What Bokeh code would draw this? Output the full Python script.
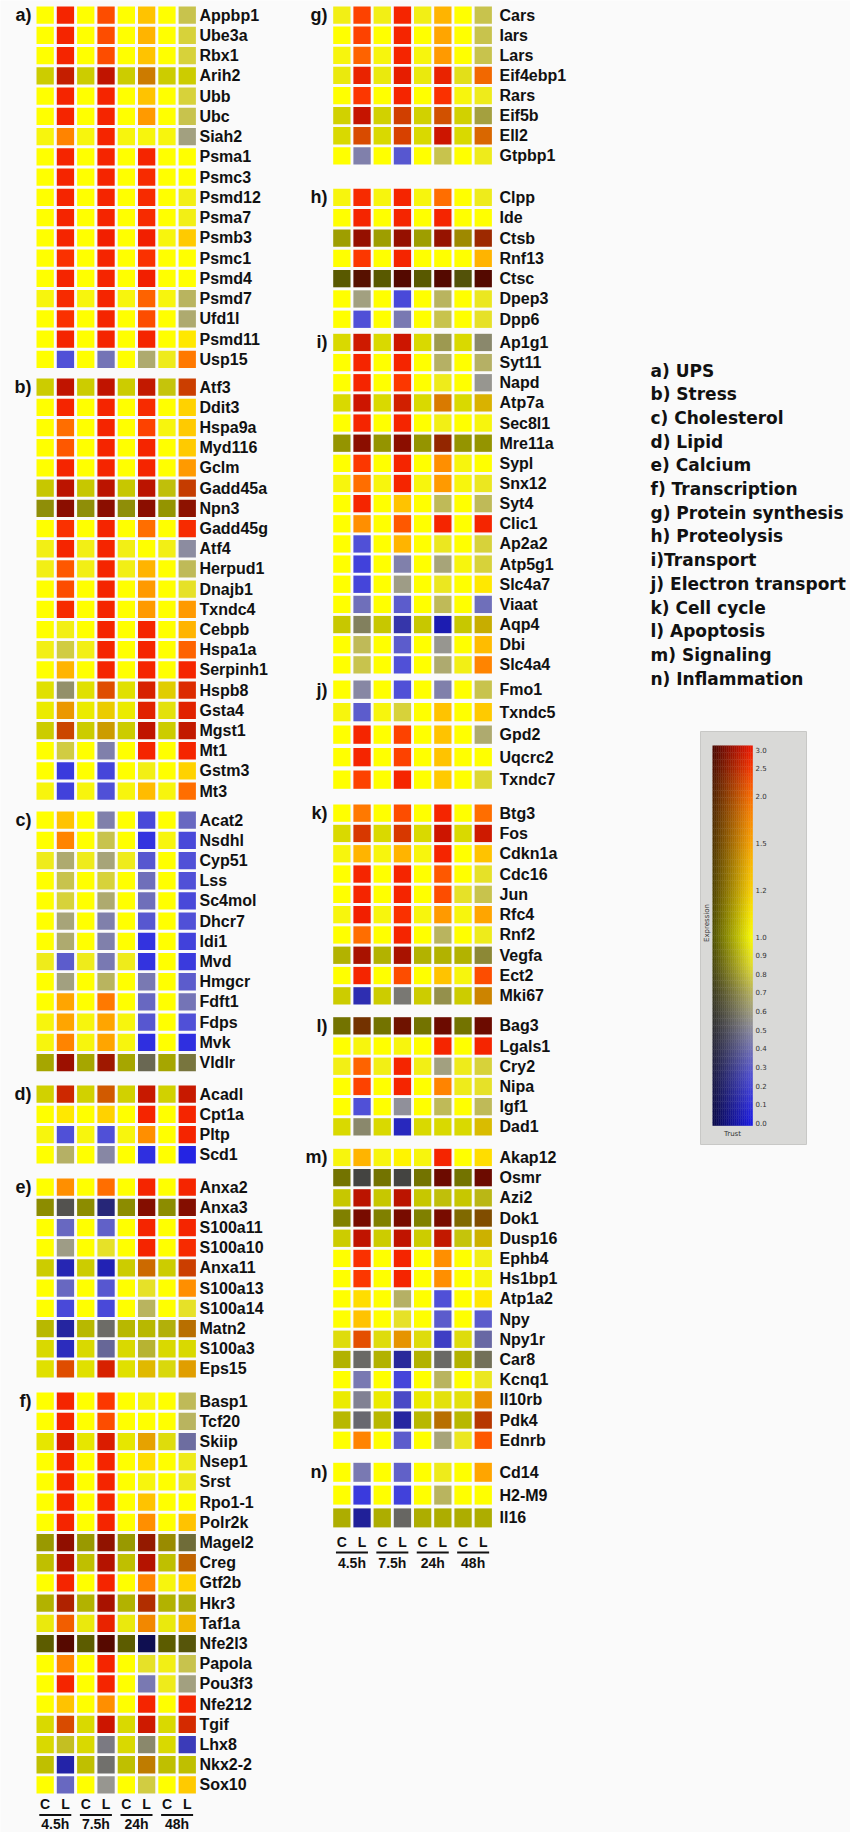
import numpy as np
from bokeh.plotting import figure
from bokeh.models import Range1d, ColumnDataSource
from bokeh.embed import file_html
from bokeh.resources import INLINE
from bokeh.core.properties import value

# ---------------- data ----------------
periods = ["4.5h", "7.5h", "24h", "48h"]
conditions = ["C", "L", "C", "L", "C", "L", "C", "L"]

legend_items = ["a) UPS", "b) Stress", "c) Cholesterol", "d) Lipid", "e) Calcium",
                "f) Transcription", "g) Protein synthesis", "h) Proteolysis",
                "i)Transport", "j) Electron transport", "k) Cell cycle",
                "l) Apoptosis", "m) Signaling", "n) Inflammation"]

cbar_ticks = [3.0, 2.5, 2.0, 1.5, 1.2, 1.0, 0.9, 0.8, 0.7, 0.6, 0.5, 0.4, 0.3, 0.2, 0.1, 0.0]

genes_a = ["Appbp1", "Ube3a", "Rbx1", "Arih2", "Ubb", "Ubc", "Siah2", "Psma1", "Psmc3",
           "Psmd12", "Psma7", "Psmb3", "Psmc1", "Psmd4", "Psmd7", "Ufd1l", "Psmd11", "Usp15"]
expr_a = [
    [1.0, 2.8, 1.0, 2.3, 1.0, 1.3, 1.0, 0.75],
    [1.0, 2.8, 1.0, 2.3, 1.0, 1.4, 1.0, 0.8],
    [1.0, 2.8, 1.0, 2.3, 1.0, 1.3, 1.0, 0.8],
    [1.0, 2.8, 1.0, 3.0, 1.0, 1.6, 1.0, 1.0],
    [1.0, 2.8, 1.0, 2.8, 1.0, 1.3, 1.0, 0.8],
    [1.0, 2.8, 1.0, 2.8, 1.0, 1.6, 1.0, 0.75],
    [0.95, 1.8, 0.95, 2.8, 0.95, 0.95, 0.95, 0.6],
    [1.0, 2.8, 1.0, 2.8, 1.0, 2.8, 1.0, 1.0],
    [1.0, 2.8, 1.0, 2.8, 1.0, 2.7, 1.0, 1.0],
    [1.0, 2.8, 1.0, 2.8, 1.0, 2.7, 1.0, 0.92],
    [1.0, 2.8, 1.0, 2.8, 1.0, 2.7, 1.0, 0.92],
    [1.0, 2.8, 1.0, 2.9, 1.0, 2.9, 0.95, 1.25],
    [1.0, 2.6, 1.0, 2.8, 1.0, 2.6, 1.0, 1.0],
    [1.0, 2.8, 1.0, 2.8, 1.0, 2.9, 1.0, 1.0],
    [0.95, 2.7, 0.95, 2.8, 0.95, 2.1, 0.95, 0.7],
    [1.0, 2.6, 1.0, 2.8, 1.0, 2.3, 1.0, 0.65],
    [1.0, 2.8, 1.0, 2.8, 1.0, 2.8, 1.0, 1.1],
    [1.0, 0.25, 1.0, 0.4, 1.0, 0.65, 0.9, 1.9],
]
trust_a = [1, 1, 1, 0.8, 1, 1, 1, 1, 1, 1, 1, 1, 1, 1, 1, 1, 1, 1]

genes_b = ["Atf3", "Ddit3", "Hspa9a", "Myd116", "Gclm", "Gadd45a", "Npn3", "Gadd45g", "Atf4",
           "Herpud1", "Dnajb1", "Txndc4", "Cebpb", "Hspa1a", "Serpinh1", "Hspb8", "Gsta4",
           "Mgst1", "Mt1", "Gstm3", "Mt3"]
expr_b = [
    [1.0, 3.0, 1.0, 3.0, 1.0, 2.9, 0.95, 2.3],
    [1.0, 2.8, 1.0, 2.8, 1.0, 2.7, 1.0, 1.2],
    [1.0, 2.0, 1.0, 2.8, 1.0, 2.4, 0.95, 1.25],
    [1.0, 2.2, 1.0, 2.8, 1.0, 2.8, 1.0, 1.25],
    [1.0, 2.8, 1.0, 2.8, 1.0, 2.8, 1.0, 1.6],
    [1.0, 3.0, 1.0, 3.0, 1.0, 3.0, 0.95, 2.3],
    [0.95, 3.0, 0.95, 3.0, 0.95, 3.0, 1.0, 2.9],
    [1.0, 2.6, 1.0, 2.8, 1.0, 2.0, 1.0, 2.7],
    [0.92, 2.8, 0.92, 2.8, 0.92, 1.0, 0.92, 0.5],
    [0.92, 2.2, 0.92, 2.8, 0.92, 1.4, 1.0, 0.72],
    [1.0, 2.3, 1.0, 2.8, 1.0, 1.6, 1.0, 0.85],
    [1.0, 2.7, 1.0, 2.8, 1.0, 1.6, 1.0, 1.6],
    [1.0, 0.92, 1.0, 2.8, 1.0, 2.8, 1.0, 1.4],
    [0.92, 0.78, 0.92, 2.8, 1.0, 2.8, 1.0, 2.1],
    [1.0, 1.4, 1.0, 2.8, 1.0, 2.8, 1.0, 2.8],
    [1.0, 0.62, 1.0, 2.2, 1.0, 2.8, 1.1, 2.6],
    [1.0, 1.5, 1.0, 1.15, 1.0, 2.8, 0.95, 2.8],
    [1.0, 2.2, 1.0, 1.3, 1.0, 3.0, 1.0, 2.9],
    [1.0, 0.78, 1.0, 0.45, 1.0, 2.8, 1.0, 2.8],
    [1.0, 0.15, 1.0, 0.2, 1.0, 0.92, 1.0, 1.2],
    [0.95, 0.18, 0.95, 0.25, 0.95, 1.35, 0.95, 2.0],
]
trust_b = [0.8, 1, 1, 1, 1, 0.78, 0.58, 1, 1, 1, 1, 1, 1, 1, 1, 0.88, 0.92, 0.8, 1, 1, 1]

genes_c = ["Acat2", "Nsdhl", "Cyp51", "Lss", "Sc4mol", "Dhcr7", "Idi1", "Mvd", "Hmgcr",
           "Fdft1", "Fdps", "Mvk", "Vldlr"]
expr_c = [
    [1.0, 1.3, 1.0, 0.45, 1.0, 0.22, 1.0, 0.35],
    [1.0, 1.8, 1.0, 0.75, 1.0, 0.12, 0.95, 0.22],
    [0.9, 0.65, 0.9, 0.62, 0.9, 0.28, 1.0, 0.25],
    [1.0, 0.75, 1.0, 0.8, 1.0, 0.38, 1.0, 0.25],
    [1.0, 0.8, 1.0, 0.65, 1.0, 0.38, 1.0, 0.22],
    [1.0, 0.62, 1.0, 0.45, 1.0, 0.28, 1.0, 0.25],
    [1.0, 0.65, 1.0, 0.45, 1.0, 0.12, 1.0, 0.18],
    [0.9, 0.3, 0.9, 0.42, 0.9, 0.12, 1.0, 0.15],
    [1.0, 0.6, 1.0, 0.7, 1.0, 0.42, 1.0, 0.3],
    [1.0, 1.5, 1.0, 1.9, 1.0, 0.35, 1.0, 0.4],
    [0.95, 1.5, 0.95, 1.5, 0.95, 0.28, 1.0, 0.25],
    [0.95, 1.8, 0.95, 1.5, 0.95, 0.1, 1.0, 0.1],
    [1.0, 3.0, 1.0, 2.8, 1.0, 0.6, 1.0, 0.7],
]
trust_c = [1, 1, 1, 1, 1, 1, 1, 1, 1, 1, 1, 1, 0.65]

genes_d = ["Acadl", "Cpt1a", "Pltp", "Scd1"]
expr_d = [
    [1.0, 2.6, 1.0, 2.0, 1.0, 2.9, 1.0, 2.9],
    [1.0, 1.1, 1.0, 1.2, 1.0, 2.8, 1.0, 2.8],
    [0.95, 0.25, 0.95, 0.25, 0.95, 1.7, 1.0, 2.8],
    [1.0, 0.68, 1.0, 0.48, 1.0, 0.1, 1.0, 0.05],
]
trust_d = [0.82, 1, 1, 1]

genes_e = ["Anxa2", "Anxa3", "S100a11", "S100a10", "Anxa11", "S100a13", "S100a14",
           "Matn2", "S100a3", "Eps15"]
expr_e = [
    [1.0, 1.7, 1.0, 2.0, 1.0, 2.8, 1.0, 2.8],
    [1.0, 0.55, 1.0, 0.2, 1.0, 3.0, 1.0, 3.0],
    [1.0, 0.35, 1.0, 0.32, 1.0, 2.8, 1.0, 2.8],
    [1.0, 0.58, 1.0, 0.85, 1.0, 2.8, 1.0, 2.7],
    [1.0, 0.1, 1.0, 0.08, 1.0, 1.8, 1.0, 2.3],
    [1.0, 0.35, 1.0, 0.28, 1.0, 0.85, 1.0, 1.7],
    [1.0, 0.22, 1.0, 0.22, 1.0, 0.7, 1.0, 0.85],
    [1.0, 0.12, 1.0, 0.55, 1.0, 1.0, 0.95, 1.6],
    [1.0, 0.12, 1.0, 0.42, 1.0, 0.8, 1.0, 1.0],
    [1.0, 2.2, 1.0, 2.8, 1.0, 1.2, 0.95, 1.4],
]
trust_e = [1, 0.55, 1, 1, 0.8, 1, 1, 0.72, 0.85, 0.88]

genes_f = ["Basp1", "Tcf20", "Skiip", "Nsep1", "Srst", "Rpo1-1", "Polr2k", "Magel2", "Creg",
           "Gtf2b", "Hkr3", "Taf1a", "Nfe2l3", "Papola", "Pou3f3", "Nfe212", "Tgif", "Lhx8",
           "Nkx2-2", "Sox10"]
expr_f = [
    [1.0, 2.8, 1.0, 2.5, 1.0, 0.95, 1.0, 0.72],
    [1.0, 2.8, 1.0, 2.3, 1.0, 1.0, 1.0, 0.7],
    [1.0, 2.9, 1.0, 2.9, 1.0, 1.4, 0.95, 0.42],
    [1.0, 2.8, 1.0, 2.8, 1.0, 1.15, 1.0, 0.9],
    [1.0, 2.8, 1.0, 2.8, 1.0, 0.95, 1.0, 0.9],
    [1.0, 2.8, 1.0, 2.8, 1.0, 1.3, 1.0, 1.0],
    [1.0, 2.8, 1.0, 2.8, 1.0, 1.7, 1.0, 1.3],
    [1.0, 3.0, 1.0, 2.9, 1.0, 2.7, 1.1, 0.7],
    [1.0, 3.0, 1.0, 3.0, 1.0, 3.0, 1.0, 1.8],
    [1.0, 2.8, 1.0, 2.8, 1.0, 1.8, 0.95, 1.2],
    [1.0, 2.6, 1.0, 3.0, 1.0, 2.4, 1.0, 0.95],
    [0.95, 2.1, 0.95, 2.8, 0.95, 1.7, 0.95, 1.3],
    [1.0, 3.0, 1.0, 3.0, 1.0, 0.08, 1.0, 0.9],
    [1.0, 1.8, 1.0, 2.8, 1.0, 0.85, 0.92, 0.75],
    [1.0, 2.8, 1.0, 2.8, 1.0, 0.42, 0.9, 0.6],
    [1.0, 1.3, 1.0, 1.7, 1.0, 2.8, 1.0, 2.8],
    [1.0, 2.2, 1.0, 3.0, 1.0, 2.9, 1.0, 2.6],
    [1.0, 0.85, 1.0, 0.52, 1.0, 0.6, 1.0, 0.2],
    [1.0, 0.1, 1.0, 0.55, 1.0, 1.5, 1.0, 1.0],
    [1.0, 0.35, 1.0, 0.55, 1.0, 0.78, 1.0, 1.25],
]
trust_f = [1, 1, 0.9, 1, 1, 1, 1, 0.6, 0.75, 1, 0.7, 0.95, 0.36, 1, 1, 1, 0.85, 0.85, 0.75, 1]

genes_g = ["Cars", "Iars", "Lars", "Eif4ebp1", "Rars", "Eif5b", "Ell2", "Gtpbp1"]
expr_g = [
    [0.92, 2.4, 0.92, 2.8, 0.92, 1.4, 1.0, 0.75],
    [1.0, 2.4, 1.0, 2.8, 1.0, 1.5, 1.0, 0.75],
    [0.95, 2.1, 0.95, 2.8, 0.95, 1.6, 1.0, 0.75],
    [0.95, 2.8, 0.95, 2.9, 0.95, 2.8, 0.9, 2.0],
    [1.0, 2.5, 1.0, 2.8, 1.0, 2.6, 0.95, 0.9],
    [1.0, 3.0, 1.0, 2.3, 1.0, 2.1, 1.0, 0.75],
    [1.0, 2.2, 1.0, 2.3, 1.0, 3.0, 1.0, 1.9],
    [1.0, 0.45, 1.0, 0.28, 1.0, 0.75, 1.0, 0.9],
]
trust_g = [1, 1, 1, 0.95, 1, 0.82, 0.85, 1]

genes_h = ["Clpp", "Ide", "Ctsb", "Rnf13", "Ctsc", "Dpep3", "Dpp6"]
expr_h = [
    [0.95, 2.7, 0.95, 2.8, 0.95, 2.0, 1.0, 0.9],
    [1.0, 2.8, 1.0, 2.8, 1.0, 2.8, 1.0, 1.0],
    [1.0, 3.0, 1.0, 3.0, 1.0, 2.9, 1.15, 2.4],
    [1.0, 2.5, 1.0, 2.8, 1.0, 1.0, 1.0, 1.4],
    [1.0, 2.6, 1.0, 3.0, 1.0, 3.0, 0.9, 3.0],
    [1.0, 0.6, 1.0, 0.22, 1.0, 0.7, 1.0, 0.88],
    [1.0, 0.25, 1.0, 0.42, 1.0, 0.75, 1.0, 0.85],
]
trust_h = [1, 1, 0.62, 1, 0.35, 1, 1]

genes_i = ["Ap1g1", "Syt11", "Napd", "Atp7a", "Sec8l1", "Mre11a", "Sypl", "Snx12", "Syt4",
           "Clic1", "Ap2a2", "Atp5g1", "Slc4a7", "Viaat", "Aqp4", "Dbi", "Slc4a4"]
expr_i = [
    [1.0, 2.9, 1.0, 3.0, 1.0, 0.7, 1.0, 0.6],
    [1.0, 2.8, 1.0, 2.8, 1.0, 0.68, 1.0, 0.68],
    [1.0, 2.8, 1.0, 2.5, 1.0, 0.9, 1.0, 0.55],
    [1.0, 3.0, 1.0, 2.8, 1.0, 1.7, 1.0, 1.2],
    [1.0, 2.8, 1.0, 2.8, 1.0, 0.92, 1.0, 0.95],
    [1.0, 3.0, 1.0, 3.0, 1.0, 2.4, 1.0, 1.0],
    [1.0, 2.5, 1.0, 2.8, 1.0, 1.7, 0.95, 1.0],
    [0.95, 2.0, 0.95, 2.8, 0.95, 1.6, 0.95, 0.88],
    [1.0, 2.8, 1.0, 1.3, 1.0, 0.72, 1.0, 0.72],
    [1.0, 1.7, 1.0, 2.2, 1.0, 2.8, 1.0, 2.8],
    [1.0, 0.25, 1.0, 1.4, 1.0, 0.88, 1.0, 0.8],
    [1.0, 0.18, 1.0, 0.45, 1.0, 0.62, 0.95, 0.8],
    [1.0, 0.2, 1.0, 0.58, 1.0, 0.88, 1.0, 1.1],
    [1.0, 0.38, 1.0, 0.3, 1.0, 0.72, 1.0, 0.38],
    [1.0, 0.62, 1.0, 0.2, 1.0, 0.05, 1.0, 1.15],
    [1.0, 0.72, 1.0, 0.3, 1.0, 0.55, 1.0, 1.35],
    [1.0, 0.75, 1.0, 0.25, 1.0, 0.65, 0.92, 1.8],
]
trust_i = [0.85, 1, 1, 0.85, 1, 0.58, 1, 1, 1, 1, 1, 1, 1, 1, 0.78, 1, 1]

genes_j = ["Fmo1", "Txndc5", "Gpd2", "Uqcrc2", "Txndc7"]
expr_j = [
    [1.0, 0.48, 1.0, 0.25, 1.0, 0.45, 1.0, 0.75],
    [0.95, 0.3, 0.95, 0.8, 1.0, 1.3, 1.0, 1.25],
    [1.0, 2.8, 1.0, 2.4, 1.0, 1.3, 1.0, 0.65],
    [1.0, 2.8, 1.0, 2.4, 1.0, 1.3, 1.0, 1.0],
    [1.0, 2.4, 1.0, 2.8, 1.0, 1.25, 1.0, 0.82],
]
trust_j = [1, 1, 1, 1, 1]

genes_k = ["Btg3", "Fos", "Cdkn1a", "Cdc16", "Jun", "Rfc4", "Rnf2", "Vegfa", "Ect2", "Mki67"]
expr_k = [
    [1.0, 1.9, 1.0, 2.3, 1.0, 2.8, 1.0, 2.0],
    [1.0, 2.4, 1.0, 2.4, 1.0, 3.0, 1.0, 2.9],
    [0.95, 1.4, 0.95, 1.4, 0.95, 2.8, 1.0, 1.3],
    [1.0, 2.8, 1.0, 2.8, 1.0, 2.2, 1.0, 0.85],
    [1.0, 2.8, 1.0, 2.8, 1.0, 2.3, 0.85, 0.75],
    [0.95, 2.9, 0.95, 2.6, 0.95, 1.6, 0.95, 1.5],
    [1.0, 2.0, 1.0, 2.8, 1.0, 0.7, 1.0, 0.9],
    [1.0, 3.0, 1.0, 3.0, 1.0, 1.0, 1.0, 0.75],
    [1.0, 2.8, 1.0, 2.3, 1.0, 1.3, 0.95, 2.3],
    [1.0, 0.15, 1.0, 0.55, 1.0, 0.7, 1.0, 1.5],
]
trust_k = [1, 0.85, 1, 1, 1, 1, 1, 0.7, 1, 0.8]

genes_l = ["Bag3", "Lgals1", "Cry2", "Nipa", "Igf1", "Dad1"]
expr_l = [
    [1.0, 2.0, 1.0, 2.7, 1.0, 3.0, 1.0, 3.0],
    [1.0, 0.95, 1.0, 0.95, 1.0, 2.8, 1.0, 2.8],
    [0.92, 2.1, 0.92, 2.8, 0.92, 0.6, 0.9, 0.8],
    [1.0, 2.4, 1.0, 2.8, 1.0, 1.8, 0.9, 0.85],
    [1.0, 0.25, 1.0, 0.52, 1.0, 0.72, 1.0, 0.72],
    [1.0, 0.6, 1.0, 0.1, 1.0, 1.0, 1.0, 1.15],
]
trust_l = [0.45, 1, 1, 1, 1, 0.85]

genes_m = ["Akap12", "Osmr", "Azi2", "Dok1", "Dusp16", "Ephb4", "Hs1bp1", "Atp1a2", "Npy",
           "Npy1r", "Car8", "Kcnq1", "Il10rb", "Pdk4", "Ednrb"]
expr_m = [
    [0.95, 1.4, 0.95, 1.05, 0.95, 2.8, 1.0, 1.15],
    [1.0, 0.55, 1.0, 0.55, 1.0, 3.0, 1.0, 3.0],
    [1.0, 3.0, 1.0, 3.0, 1.0, 0.95, 1.0, 0.9],
    [1.0, 3.0, 1.0, 3.0, 1.0, 3.0, 1.2, 1.6],
    [1.0, 3.0, 1.0, 3.0, 1.0, 2.9, 0.95, 1.15],
    [1.0, 2.6, 1.0, 2.8, 1.0, 1.7, 1.0, 0.92],
    [1.0, 2.5, 1.0, 2.8, 1.0, 1.7, 1.0, 0.95],
    [1.0, 1.15, 1.0, 0.68, 1.0, 0.25, 1.0, 1.1],
    [1.0, 1.3, 1.0, 0.85, 1.0, 0.3, 1.0, 0.3],
    [0.95, 2.2, 0.95, 1.5, 0.95, 0.2, 0.95, 0.4],
    [1.0, 0.55, 1.0, 0.15, 1.0, 0.55, 1.0, 0.6],
    [1.0, 0.42, 1.0, 0.2, 1.0, 0.7, 1.0, 0.88],
    [1.0, 0.5, 1.0, 0.25, 1.0, 0.95, 0.95, 1.6],
    [1.0, 0.52, 1.0, 0.12, 1.0, 1.6, 1.0, 2.3],
    [1.0, 1.8, 1.0, 0.3, 1.0, 0.62, 0.88, 2.2],
]
trust_m = [1, 0.45, 0.78, 0.5, 0.8, 1, 1, 1, 1, 0.9, 0.7, 1, 0.92, 0.72, 1]

genes_n = ["Cd14", "H2-M9", "Il16"]
expr_n = [
    [1.0, 0.42, 1.0, 0.32, 1.0, 0.9, 1.0, 1.5],
    [1.0, 0.15, 1.0, 0.18, 1.0, 0.7, 1.0, 1.0],
    [1.0, 0.1, 1.0, 0.55, 1.0, 1.0, 1.0, 1.0],
]
trust_n = [1, 1, 0.68]

# ---------------- colour scale (expression -> colour, trust darkens) ----------------
E_ANCH = [0.0, 0.25, 0.5, 0.7, 0.85, 1.0, 1.2, 1.5, 2.0, 2.5, 3.0]
R_ANCH = [25, 80, 140, 185, 230, 255, 255, 255, 255, 252, 240]
G_ANCH = [25, 80, 140, 180, 225, 255, 210, 165, 110, 55, 25]
B_ANCH = [230, 215, 160, 95, 40, 0, 0, 0, 0, 0, 0]


def expr_rgb(e, t):
    r = np.interp(e, E_ANCH, R_ANCH) * t
    g = np.interp(e, E_ANCH, G_ANCH) * t
    b = np.interp(e, E_ANCH, B_ANCH) * t
    return "#%02x%02x%02x" % (int(round(r)), int(round(g)), int(round(b)))


# ---------------- layout ----------------
W, H = 850, 1832
BG = "#fafafa"
CELL = 17.3
FONT = value("Liberation Sans")

# column: (x of first cell's left edge, column pitch, label x, letter right x)
COLS = {"left": (36.0, 20.3, 199.0, 31.0), "mid": (332.7, 20.2, 499.0, 327.0)}
# panel: (letter, genes, values, trust, column, top of first row, row pitch, cell height)
panels = [
    ("a)", genes_a, expr_a, trust_a, "left", 6.0, 20.25, CELL),
    ("b)", genes_b, expr_b, trust_b, "left", 378.0, 20.2, CELL),
    ("c)", genes_c, expr_c, trust_c, "left", 811.0, 20.2, CELL),
    ("d)", genes_d, expr_d, trust_d, "left", 1085.0, 20.2, CELL),
    ("e)", genes_e, expr_e, trust_e, "left", 1178.0, 20.2, CELL),
    ("f)", genes_f, expr_f, trust_f, "left", 1392.0, 20.2, CELL),
    ("g)", genes_g, expr_g, trust_g, "mid", 6.0, 20.1, CELL),
    ("h)", genes_h, expr_h, trust_h, "mid", 188.3, 20.3, CELL),
    ("i)", genes_i, expr_i, trust_i, "mid", 333.3, 20.15, CELL),
    ("j)", genes_j, expr_j, trust_j, "mid", 680.0, 22.5, 18.3),
    ("k)", genes_k, expr_k, trust_k, "mid", 804.0, 20.3, CELL),
    ("l)", genes_l, expr_l, trust_l, "mid", 1016.7, 20.2, CELL),
    ("m)", genes_m, expr_m, trust_m, "mid", 1148.3, 20.2, CELL),
    ("n)", genes_n, expr_n, trust_n, "mid", 1462.3, 22.8, 19.0),
]
# bottom time labels: column -> (C/L text y, rule y, period text y)
FOOT = {"left": (1803.0, 1814.5, 1823.0), "mid": (1541.0, 1552.0, 1562.0)}

p = figure(width=W, height=H, x_range=Range1d(0, W), y_range=Range1d(H, 0),
           output_backend="svg", toolbar_location=None,
           x_axis_location=None, y_axis_location=None,
           background_fill_color=BG, border_fill_color=BG, min_border=0)
p.outline_line_color = None
p.grid.visible = False

cx, cy, cw, ch, cc = [], [], [], [], []
lx, ly, lt = [], [], []
px, py, pt = [], [], []
for letter, genes, vals, trust, col, top, pitch, cellh in panels:
    x0, xp, labx, letx = COLS[col]
    for r, g in enumerate(genes):
        yc = top + r * pitch + cellh / 2.0
        for c in range(8):
            cx.append(x0 + c * xp + CELL / 2.0)
            cy.append(yc)
            cw.append(CELL)
            ch.append(cellh)
            cc.append(expr_rgb(vals[r][c], trust[r]))
        lx.append(labx)
        ly.append(yc)
        lt.append(g)
    px.append(letx)
    py.append(top + cellh / 2.0)
    pt.append(letter)

p.rect(x="x", y="y", width="w", height="h", fill_color="c", line_color=None,
       source=ColumnDataSource(dict(x=cx, y=cy, w=cw, h=ch, c=cc)))
p.text(x=lx, y=ly, text=lt, text_font=FONT, text_font_style="bold", text_font_size="16px",
       text_baseline="middle", text_align="left", text_color="#111111")
p.text(x=px, y=py, text=pt, text_font=FONT, text_font_style="bold", text_font_size="18px",
       text_baseline="middle", text_align="right", text_color="#111111")

# footer labels
for col, (ycl, yrule, yper) in FOOT.items():
    x0, xp, _, _ = COLS[col]
    centers = [x0 + c * xp + CELL / 2.0 for c in range(8)]
    p.text(x=centers, y=[ycl] * 8, text=conditions, text_font=FONT, text_font_style="bold",
           text_font_size="14px", text_baseline="middle", text_align="center", text_color="#111111")
    pair_c = [(centers[2 * k] + centers[2 * k + 1]) / 2.0 for k in range(4)]
    p.segment(x0=[c - 16 for c in pair_c], x1=[c + 16 for c in pair_c],
              y0=[yrule] * 4, y1=[yrule] * 4, line_color="#111111", line_width=2.2)
    p.text(x=pair_c, y=[yper] * 4, text=periods, text_font=FONT, text_font_style="bold",
           text_font_size="14px", text_baseline="middle", text_align="center", text_color="#111111")

# category legend
LEG_X, LEG_Y0, LEG_DY = 650.0, 370.0, 23.7
p.text(x=[LEG_X] * len(legend_items), y=[LEG_Y0 + i * LEG_DY for i in range(len(legend_items))],
       text=legend_items, text_font=value("DejaVu Sans"), text_font_style="bold",
       text_font_size="17px", text_baseline="middle", text_align="left", text_color="#111111")

# colour bar (2D: expression vertically, trust horizontally)
BOX = (700.0, 806.0, 731.0, 1144.0)
GX0, GX1, GY_TOP, GY_BOT = 712.0, 752.0, 745.0, 1125.0
Y3, Y1, Y0 = 749.0, 936.0, 1122.5


def cbar_y(e):
    if e <= 1.0:
        return Y0 + (Y1 - Y0) * e
    return Y1 + (Y3 - Y1) * (1 - 1 / e) / (2.0 / 3.0)


p.quad(left=[BOX[0]], right=[BOX[1]], top=[BOX[2]], bottom=[BOX[3]],
       fill_color="#d9d9d7", line_color="#c8c8c6")
NX, NY = 20, 110
qx0, qx1, qt, qb, qc = [], [], [], [], []
ys = np.linspace(GY_TOP, GY_BOT, NY + 1)
xs = np.linspace(GX0, GX1, NX + 1)
for j in range(NY):
    ym = (ys[j] + ys[j + 1]) / 2
    if ym >= Y1:
        e = (ym - Y0) / (Y1 - Y0)
    else:
        f = (ym - Y1) / (Y3 - Y1) * (2.0 / 3.0)
        e = 1.0 / max(1 - f, 1e-3)
    e = min(max(e, 0.0), 3.2)
    for i in range(NX):
        tt = 0.3 + 0.7 * ((i + 0.5) / NX)
        qx0.append(xs[i]); qx1.append(xs[i + 1] + 0.3)
        qt.append(ys[j]); qb.append(ys[j + 1] + 0.3)
        qc.append(expr_rgb(e, tt))
p.quad(left="l", right="r", top="t", bottom="b", fill_color="c", line_color=None,
       source=ColumnDataSource(dict(l=qx0, r=qx1, t=qt, b=qb, c=qc)))
p.text(x=[GX1 + 3] * len(cbar_ticks), y=[cbar_y(v) for v in cbar_ticks],
       text=["%.1f" % v for v in cbar_ticks], text_font=value("DejaVu Sans"),
       text_font_size="7px", text_baseline="middle", text_align="left", text_color="#333333")
p.text(x=[GX0 - 2], y=[(Y1 + Y3) / 2 + 80], text=["Expression"], angle=np.pi / 2,
       text_font=value("DejaVu Sans"), text_font_size="7px", text_baseline="bottom",
       text_align="center", text_color="#333333")
p.text(x=[(GX0 + GX1) / 2], y=[GY_BOT + 8], text=["Trust"], text_font=value("DejaVu Sans"),
       text_font_size="7px", text_baseline="middle", text_align="center", text_color="#333333")

open("out.html", "w").write(file_html(p, INLINE))
